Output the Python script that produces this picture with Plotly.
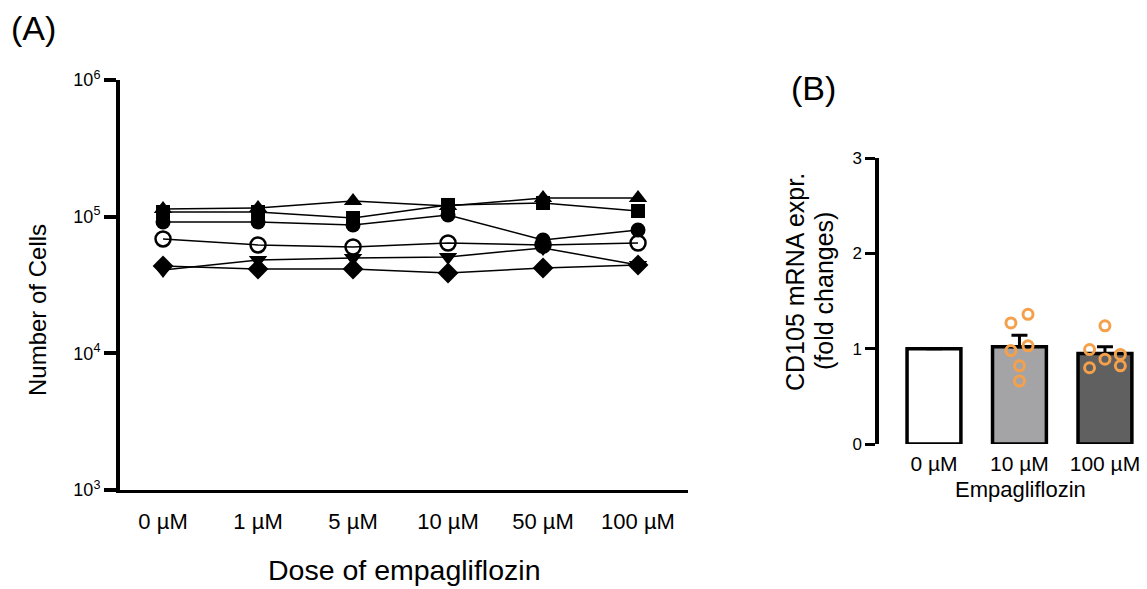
import plotly.graph_objects as go

# ---------------- Panel A data ----------------
doses = ["0 µM", "1 µM", "5 µM", "10 µM", "50 µM", "100 µM"]
tri_up = [113800, 115800, 130300, 119800, 137000, 137000]
square = [108200, 108200, 97800, 121800, 125900, 110000]
circle_filled = [91500, 91500, 87000, 102900, 67500, 79900]
circle_open = [68700, 62100, 60000, 64200, 62100, 64200]
tri_down = [40700, 48200, 49900, 50700, 59000, 44300]
diamond = [43600, 41400, 41400, 38700, 42100, 44300]
y_ticks_a = [1e3, 1e4, 1e5, 1e6]
y_ticktext_a = ["10<sup>3</sup>", "10<sup>4</sup>", "10<sup>5</sup>", "10<sup>6</sup>"]

# ---------------- Panel B data ----------------
groups_b = ["0 µM", "10 µM", "100 µM"]
bar_means = [1.0, 1.02, 0.95]
bar_sem = [0.0, 0.12, 0.07]
pts_10 = [1.27, 1.36, 1.03, 0.98, 0.82, 0.66]
pts_100 = [1.24, 0.99, 0.89, 0.94, 0.80, 0.82]
jit_10 = [-0.10, 0.10, 0.10, -0.10, 0.0, 0.0]
jit_100 = [0.0, -0.18, 0.0, 0.18, -0.18, 0.18]

FONT = "Liberation Sans, Arial, sans-serif"
# page body has an 8px margin, so the figure is drawn 8px lower/right
OFF = 8
W, H = 1147 - OFF, 589 - OFF

fig = go.Figure()

xa = list(range(len(doses)))
series = [
    (tri_up, "triangle-up", 16),
    (square, "square", 14),
    (circle_filled, "circle", 15),
    (circle_open, "circle-open", 15),
    (tri_down, "triangle-down", 16),
    (diamond, "diamond", 16),
]
for vals, sym, sz in series:
    mk = dict(symbol=sym, size=sz, color="black")
    if sym == "circle-open":
        mk["line"] = dict(width=2.5, color="black")
    else:
        mk["line"] = dict(width=0)
    fig.add_trace(go.Scatter(
        x=xa, y=vals, mode="lines+markers",
        line=dict(color="black", width=1.5),
        marker=mk, xaxis="x", yaxis="y", showlegend=False, cliponaxis=False))

# Panel B bars
xb = list(range(len(groups_b)))
fig.add_trace(go.Bar(
    x=xb, y=bar_means, width=0.63,
    marker=dict(color=["#ffffff", "#a4a4a7", "#606060"], line=dict(color="black", width=3.5)),
    error_y=dict(type="data", array=bar_sem, arrayminus=[0, 0, 0], symmetric=False,
                 color="black", thickness=3, width=8, visible=True),
    xaxis="x2", yaxis="y2", showlegend=False))

fig.add_trace(go.Scatter(
    x=[1 + j for j in jit_10] + [2 + j for j in jit_100],
    y=pts_10 + pts_100, mode="markers",
    marker=dict(symbol="circle-open", size=10, color="#f5a04a", line=dict(width=3, color="#f5a04a")),
    xaxis="x2", yaxis="y2", showlegend=False, cliponaxis=False))


def px_x(p):
    return (p - OFF) / W


def px_y(p):
    return 1 - (p - OFF) / H


def note(text, x, y, size, angle=0):
    return dict(text=text, x=px_x(x), y=px_y(y), xref="paper", yref="paper",
                xanchor="center", yanchor="middle", showarrow=False,
                textangle=angle, font=dict(size=size))


fig.update_layout(
    width=W, height=H,
    margin=dict(l=0, r=0, t=0, b=0, autoexpand=False),
    paper_bgcolor="white", plot_bgcolor="white",
    font=dict(family=FONT, color="black"),
    xaxis=dict(
        domain=[px_x(120), px_x(688)], range=[-0.453, 5.526], automargin=False,
        tickmode="array", tickvals=xa, ticktext=doses,
        tickfont=dict(size=22), ticks="outside", ticklen=10, tickcolor="rgba(0,0,0,0)",
        showgrid=False, zeroline=False,
        showline=True, linecolor="black", linewidth=3,
        anchor="y"),
    yaxis=dict(
        domain=[px_y(490), px_y(80)], type="log", range=[3, 6], automargin=False,
        tickmode="array", tickvals=y_ticks_a, ticktext=y_ticktext_a,
        tickfont=dict(size=18), ticks="outside", ticklen=12, tickwidth=4, tickcolor="black",
        showgrid=False, zeroline=False, showline=True, linecolor="black", linewidth=4,
        anchor="x"),
    xaxis2=dict(
        domain=[px_x(879), px_x(1140)], range=[-0.643, 2.41], automargin=False,
        tickmode="array", tickvals=xb, ticktext=groups_b,
        tickfont=dict(size=21), ticks="outside", ticklen=1, tickcolor="rgba(0,0,0,0)",
        showgrid=False, zeroline=False, showline=False,
        anchor="y2"),
    yaxis2=dict(
        domain=[px_y(444), px_y(158)], range=[0, 3], automargin=False,
        tickmode="array", tickvals=[0, 1, 2, 3],
        tickfont=dict(size=17), ticks="outside", ticklen=10, tickwidth=3, tickcolor="black",
        showgrid=False, zeroline=False, showline=True, linecolor="black", linewidth=3.5,
        anchor="x2"),
    annotations=[
        dict(text="(A)", x=px_x(9), y=px_y(28), xref="paper", yref="paper",
             xanchor="left", yanchor="middle", showarrow=False, font=dict(size=34)),
        dict(text="(B)", x=px_x(789), y=px_y(88), xref="paper", yref="paper",
             xanchor="left", yanchor="middle", showarrow=False, font=dict(size=34)),
        note("Dose of empagliflozin", 404, 570, 28.5),
        note("Number of Cells", 37, 310, 24, -90),
        note("Empagliflozin", 1020, 489, 22),
        note("CD105 mRNA expr.", 795, 282, 25, -90),
        note("(fold changes)", 824, 291, 25, -90),
    ],
)

fig.write_html("out.html")
